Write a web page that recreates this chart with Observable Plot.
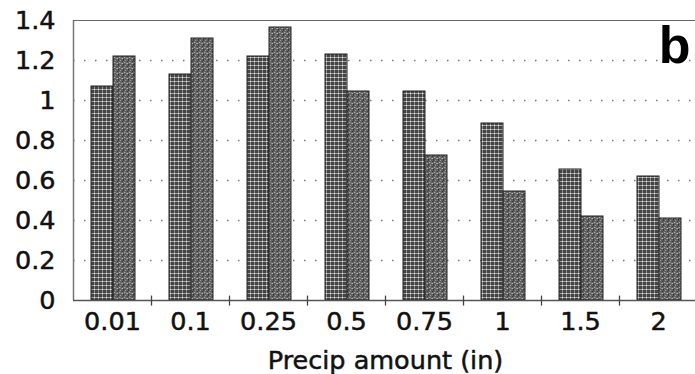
<!DOCTYPE html>
<html>
<head>
<meta charset="utf-8">
<script src="https://cdn.jsdelivr.net/npm/d3@7"></script>
<script src="https://cdn.jsdelivr.net/npm/@observablehq/plot@0.6"></script>
<style>
  html, body { margin: 0; padding: 0; background: #fff; overflow: hidden; }
  #chart svg { display: block; }
</style>
</head>
<body>
<div id="chart"></div>
<script>
const categories = ["0.01", "0.1", "0.25", "0.5", "0.75", "1", "1.5", "2"];
const seriesA = [1.07, 1.13, 1.22, 1.23, 1.045, 0.885, 0.655, 0.62];
const seriesB = [1.22, 1.31, 1.365, 1.045, 0.725, 0.545, 0.42, 0.41];
const yTicks = [0, 0.2, 0.4, 0.6, 0.8, 1, 1.2, 1.4];
const gridTicks = [0.2, 0.4, 0.6, 0.8, 1, 1.2];
const panelLabel = ["b"];
const xTitle = ["Precip amount (in)"];

const W = 695, H = 374, ML = 73, MR = -2, MT = 20, MB = 74;
const band = (W - ML - MR) / categories.length;
const FS = 25.5;

const dataA = categories.map((c, i) => ({cat: c, v: seriesA[i]}));
const dataB = categories.map((c, i) => ({cat: c, v: seriesB[i]}));

const chart = Plot.plot({
  width: W,
  height: H,
  marginLeft: ML,
  marginRight: MR,
  marginTop: MT,
  marginBottom: MB,
  style: {fontFamily: "'DejaVu Sans', sans-serif", fontSize: FS + "px", color: "#111", background: "#fff"},
  x: {type: "band", domain: categories, padding: 0, label: null},
  y: {domain: [0, 1.4], label: null},
  marks: [
    Plot.ruleY(gridTicks, {stroke: "#777", strokeWidth: 1.6, strokeDasharray: "1.5,9.5"}),
    Plot.barY(dataA, {x: "cat", y: "v", fill: "url(#patA)", stroke: "#222", strokeWidth: 1, insetLeft: 18, insetRight: band - 40}),
    Plot.barY(dataB, {x: "cat", y: "v", fill: "url(#patB)", stroke: "#222", strokeWidth: 1, insetLeft: 40, insetRight: band - 62}),
    Plot.ruleX([0], {x: () => categories[0], dx: -band / 2, y1: 0, y2: 1.4, stroke: "#777", strokeWidth: 1.5}),
    Plot.ruleY([1.4], {stroke: "#666", strokeWidth: 1.2}),
    Plot.ruleY([0], {stroke: "#555", strokeWidth: 1.6}),
    Plot.ruleX(categories.slice(1), {x: d => d, dx: -band / 2, y1: -0.028, y2: 0.022, stroke: "#444", strokeWidth: 1.3}),
    Plot.axisY(yTicks, {tickSize: 0, tickPadding: 18, tickFormat: d => String(d), fontSize: FS, fill: "#111", textStroke: "#111", textStrokeWidth: 0.5, textStrokeOpacity: 1}),
    Plot.axisX({tickSize: 0, tickPadding: 11, fontSize: FS, fill: "#111", label: null, textStroke: "#111", textStrokeWidth: 0.5, textStrokeOpacity: 1}),
    Plot.text(xTitle, {frameAnchor: "bottom", dy: 68, lineAnchor: "bottom", fontSize: FS, fill: "#111", stroke: "#111", strokeWidth: 0.5}),
    Plot.text(panelLabel, {frameAnchor: "top-right", dx: -7, dy: 6, lineAnchor: "top", fontSize: 52, fontWeight: "bold", fontFamily: "'Liberation Sans', Arial, sans-serif", fill: "#000"})
  ]
});

// textures for the two bar series
const svg = d3.select(chart);
const defs = svg.insert("defs", ":first-child");
const pA = defs.append("pattern").attr("id", "patA").attr("patternUnits", "userSpaceOnUse")
  .attr("width", 4).attr("height", 4);
pA.append("rect").attr("width", 4).attr("height", 4).attr("fill", "#444");
pA.append("rect").attr("x", 0).attr("y", 1).attr("width", 4).attr("height", 1).attr("fill", "#a0a0a0");
pA.append("rect").attr("x", 2).attr("y", 0).attr("width", 1).attr("height", 4).attr("fill", "#8f8f8f");
pA.append("rect").attr("x", 2).attr("y", 1).attr("width", 1).attr("height", 1).attr("fill", "#e0e0e0");

const pB = defs.append("pattern").attr("id", "patB").attr("patternUnits", "userSpaceOnUse")
  .attr("width", 5).attr("height", 5);
pB.append("rect").attr("width", 5).attr("height", 5).attr("fill", "#626262");
[[0,0,"#9a9a9a"],[2,1,"#3a3a3a"],[4,2,"#a8a8a8"],[1,3,"#8c8c8c"],[3,4,"#333"],[3,0,"#444"],[0,2,"#777"],[2,3,"#b0b0b0"]]
  .forEach(([x, y, c]) => pB.append("rect").attr("x", x).attr("y", y).attr("width", 1).attr("height", 1).attr("fill", c));

// thicken tick label text like the scanned original
svg.selectAll("g[aria-label='y-axis tick label'] text, g[aria-label='x-axis tick label'] text")
  .attr("stroke", "#111").attr("stroke-width", 0.5);

document.getElementById("chart").appendChild(chart);
</script>
</body>
</html>
